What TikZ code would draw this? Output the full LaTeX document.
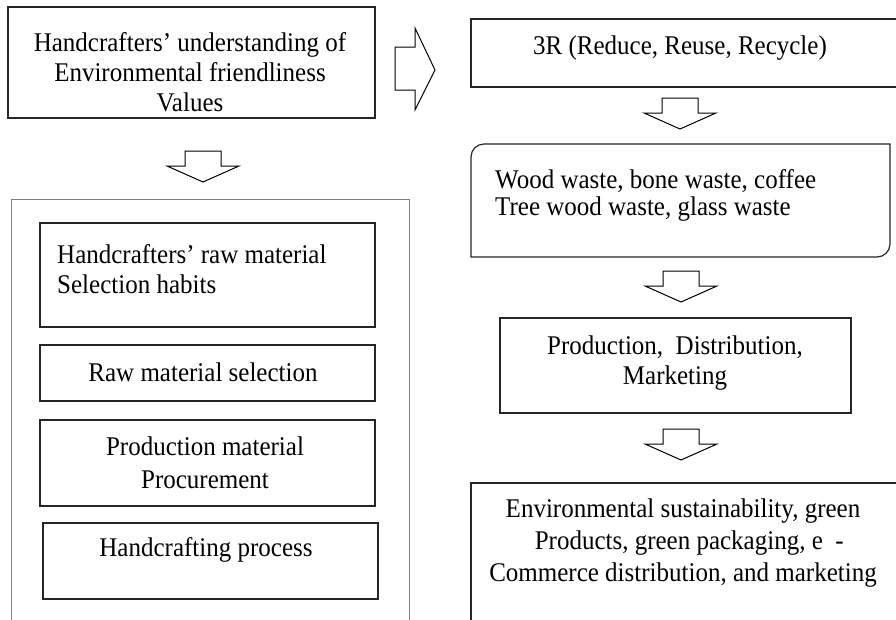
\documentclass[tikz,border=0pt]{standalone}
\usepackage{fontspec}
\setmainfont{Liberation Serif}

\newcommand{\downblock}[2]{%
  \draw [line width=1pt, fill=white] (#1-18,#2) -- (#1+18,#2) -- (#1+18,#2+15) -- (#1+36,#2+15) -- (#1,#2+31) -- (#1-36,#2+15) -- (#1-18,#2+15) -- cycle;}

\begin{document}
\begin{tikzpicture}[x=1pt, y=-1pt,
  box/.style={line width=1.2pt, draw=black!85},
  txt/.style={font=\fontsize{25}{28}\selectfont, align=center, inner sep=0pt, transform shape, yscale=1.08}]

\useasboundingbox (0,0) rectangle (896,619);
\clip (0,0) rectangle (896,619);

\draw [box] (8,7) rectangle (375,118);
\node [txt] (values) at (190,72) {Handcrafters’ understanding of\\Environmental friendliness\\Values};

\draw [line width=1pt, fill=white] (395,47) -- (415,47) -- (415,28) -- (435,70) -- (415,110) -- (415,90) -- (395,90) -- cycle;
\downblock{203}{151}

\draw [line width=1pt, draw=gray] (11,640) -- (11,199) -- (409,199) -- (409,640);

\draw [box] (40,223) rectangle (375,327);
\node [txt, align=left, anchor=west] (habits) at (57,269) {Handcrafters’ raw material\\Selection habits};
\draw [box] (40,345) rectangle (375,401);
\node [txt] (rawsel) at (203,372) {Raw material selection};
\draw [box] (40,420) rectangle (375,506);
\node [txt, font=\fontsize{25}{31}\selectfont] (procure) at (205,463) {Production material\\Procurement};
\draw [box] (43,523) rectangle (378,599);
\node [txt] (process) at (206,550) {Handcrafting process};

\draw [box] (471,19) rectangle (910,87);
\node [txt] (reuse) at (680,48) {3R (Reduce, Reuse, Recycle)};
\downblock{680}{98}

\draw [box] (471,257) [rounded corners=13pt] -- (471,144) [sharp corners] -- (890,144) [rounded corners=13pt] -- (890,257) [sharp corners] -- cycle;
\node [txt, align=left, anchor=west, font=\fontsize{25}{25}\selectfont] (waste) at (495,195) {Wood waste, bone waste, coffee\\Tree wood waste, glass waste};
\downblock{681}{271}

\draw [box] (500,318) rectangle (851,413);
\node [txt] (trade) at (675,363) {Production,\ \ Distribution,\\Marketing};
\downblock{681}{429}

\draw [box] (471,483) rectangle (910,640);
\node [txt, font=\fontsize{25}{30}\selectfont] (green) at (683,543) {Environmental sustainability, green\\\ \ Products, green packaging, e\ \ -\\Commerce distribution, and marketing};

\end{tikzpicture}
\end{document}
